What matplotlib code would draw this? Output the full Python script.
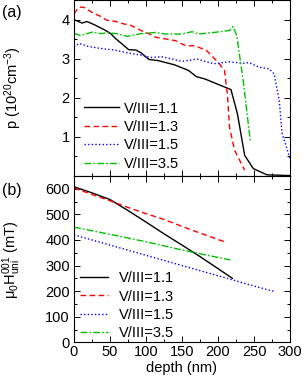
import matplotlib
matplotlib.use("Agg")
import matplotlib.pyplot as plt
from matplotlib.ticker import MultipleLocator, FixedLocator

plt.rcParams['font.family'] = ['Liberation Sans', 'DejaVu Sans']
plt.rcParams['mathtext.fontset'] = 'custom'
plt.rcParams['mathtext.rm'] = 'Liberation Sans'
plt.rcParams['mathtext.it'] = 'Liberation Sans'
plt.rcParams['mathtext.bf'] = 'Liberation Sans'
plt.rcParams['font.size'] = 10.5

labels = ["V/III=1.1", "V/III=1.3", "V/III=1.5", "V/III=3.5"]
colors = ["#000000", "#ff0000", "#0000ff", "#00c000"]

# panel (a): hole concentration p (10^20 cm^-3) vs depth (nm)
a_x_11 = [0, 5, 11, 18, 28, 42, 51, 58, 69, 76, 86, 93, 104, 117, 140, 159, 170, 182, 203, 218, 227, 237, 249, 268, 300]
a_y_11 = [4.00, 3.96, 3.91, 3.95, 3.87, 3.74, 3.64, 3.51, 3.34, 3.23, 3.22, 3.15, 2.98, 2.95, 2.84, 2.70, 2.54, 2.48, 2.32, 2.21, 1.59, 0.53, 0.19, 0.03, 0.01]
a_x_13 = [0, 7, 14, 28, 35, 46, 56, 69, 79, 93, 104, 113, 141, 155, 168, 184, 200, 209, 213, 216, 223, 237]
a_y_13 = [4.15, 4.32, 4.31, 4.15, 4.10, 3.98, 3.96, 3.89, 3.85, 3.72, 3.64, 3.55, 3.46, 3.33, 3.33, 3.21, 2.91, 2.70, 2.10, 1.25, 0.66, 0.15]
a_x_15 = [0, 7, 18, 37, 56, 74, 93, 106, 122, 150, 171, 194, 216, 234, 243, 257, 271, 278, 285, 289, 300]
a_y_15 = [3.30, 3.39, 3.32, 3.26, 3.22, 3.15, 3.09, 3.03, 3.05, 2.93, 2.99, 2.87, 2.92, 2.88, 2.90, 2.78, 2.74, 2.61, 1.93, 1.09, 0.45]
a_x_35 = [0, 9, 18, 26, 37, 46, 60, 74, 83, 93, 113, 127, 150, 164, 173, 194, 216, 221, 226, 235, 245]
a_y_35 = [3.65, 3.59, 3.64, 3.68, 3.64, 3.66, 3.64, 3.57, 3.60, 3.64, 3.67, 3.63, 3.63, 3.69, 3.63, 3.67, 3.72, 3.82, 3.59, 2.44, 0.87]

# panel (b): mu0 H_uni^001 (mT) vs depth (nm)
b_x_11 = [0, 25, 50, 75, 100, 125, 150, 175, 200, 220]
b_y_11 = [608, 584, 558, 515, 470, 424, 380, 335, 288, 250]
b_x_13 = [0, 25, 50, 75, 100, 125, 150, 175, 200, 212]
b_y_13 = [603, 578, 553, 527, 503, 480, 453, 427, 402, 390]
b_x_15 = [0, 50, 100, 150, 200, 250, 279]
b_y_15 = [420, 380, 340, 300, 260, 220, 198]
b_x_35 = [0, 50, 100, 150, 175, 217]
b_y_35 = [450, 422, 393, 361, 346, 322]

dash_styles = [(None), (4, 2.5), (1, 1.6), (5, 1.5, 1.2, 1.5)]

fig = plt.figure(figsize=(3.03, 3.8), dpi=100)
L, W = 74 / 303, 216 / 303
ax1 = fig.add_axes([L, 1 - 176 / 380, W, 176 / 380])
ax2 = fig.add_axes([L, 1 - 342.3 / 380, W, 166.3 / 380])

def draw(ax, xs, ys):
    for x, y, c, lab, d in zip(xs, ys, colors, labels, dash_styles):
        ln, = ax.plot(x, y, color=c, lw=1.0, label=lab)
        if d is not None:
            ln.set_dashes(d)

draw(ax1, [a_x_11, a_x_13, a_x_15, a_x_35], [a_y_11, a_y_13, a_y_15, a_y_35])
draw(ax2, [b_x_11, b_x_13, b_x_15, b_x_35], [b_y_11, b_y_13, b_y_15, b_y_35])

for ax in (ax1, ax2):
    ax.set_xlim(0, 300)
    ax.xaxis.set_major_locator(MultipleLocator(50))
    ax.xaxis.set_minor_locator(MultipleLocator(25))
    ax.tick_params(which='both', direction='in', top=True, right=True, width=0.7)
    ax.tick_params(which='major', length=4, pad=3)
    ax.tick_params(which='minor', length=2)
    for s in ax.spines.values():
        s.set_linewidth(0.8)

ax1.set_ylim(0, 4.5)
ax1.yaxis.set_major_locator(FixedLocator([1, 2, 3, 4]))
ax1.yaxis.set_minor_locator(MultipleLocator(0.5))
ax1.tick_params(labelbottom=False)
ax1.set_ylabel(r'p (10$^{20}$cm$^{-3}$)')
ax1.yaxis.set_label_coords((24 - 74) / 216, 0.5)

ax2.set_ylim(0, 650)
ax2.yaxis.set_major_locator(MultipleLocator(100))
ax2.yaxis.set_minor_locator(MultipleLocator(50))
ax2.set_xlabel('depth (nm)')
ax2.xaxis.set_label_coords(0.5, -(361 - 342.3) / 166.3)
ax2.set_ylabel(r'$\mu_0$H$^{001}_{\rm uni}$ (mT)')
ax2.yaxis.set_label_coords((23 - 74) / 216, 0.5)
ax2.tick_params(axis='x', pad=2)

ax1.legend(loc='lower left', bbox_to_anchor=((84 - 74) / 216, 0.03), frameon=False,
           borderpad=0, borderaxespad=0, handlelength=2.4, handletextpad=0.35,
           labelspacing=0.3, fontsize=10.5)
ax2.legend(loc='lower left', bbox_to_anchor=((80 - 74) / 216, 0.012), frameon=False,
           borderpad=0, borderaxespad=0, handlelength=1.9, handletextpad=0.8,
           labelspacing=0.3, fontsize=10.5)

fig.text(2 / 303, 1 - 12 / 380, '(a)', fontsize=11.5, va='center', ha='left')
fig.text(2 / 303, 1 - 190 / 380, '(b)', fontsize=11.5, va='center', ha='left')

fig.savefig('out.png', dpi=100)
